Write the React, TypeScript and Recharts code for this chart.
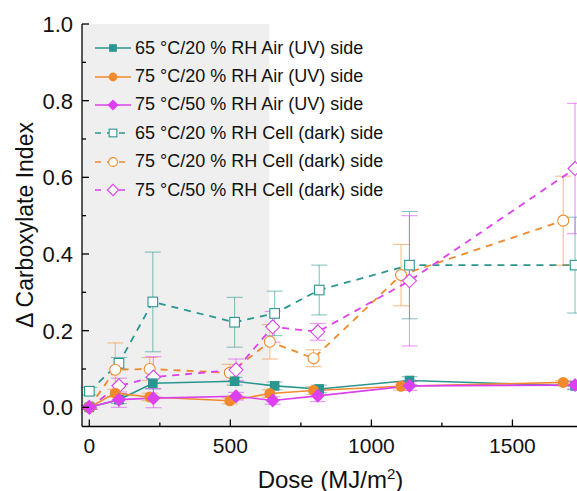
import React from 'react';
import { LineChart, Line, XAxis, YAxis, ReferenceArea, ErrorBar } from 'recharts';

// dose positions (MJ/m2) per colour group
const doseTeal = [0, 105, 225, 515, 657, 815, 1135, 1722];
const doseOrange = [0, 92, 214, 498, 640, 795, 1105, 1680];
const doseMagenta = [0, 105, 227, 520, 650, 810, 1135, 1722];

// air (UV) side
const air65 = [0.0, 0.02, 0.063, 0.068, 0.056, 0.048, 0.07, 0.056];
const air65Err = [0.005, 0.01, 0.015, 0.01, 0.01, 0.01, 0.01, 0.01];
const air75 = [0.0, 0.037, 0.027, 0.017, 0.036, 0.044, 0.055, 0.065];
const air75Err = [0.005, 0.01, 0.01, 0.008, 0.01, 0.01, 0.01, 0.005];
const air75h = [0.0, 0.02, 0.024, 0.029, 0.018, 0.03, 0.056, 0.058];
const air75hErr = [0.005, 0.02, 0.025, 0.01, 0.01, 0.015, 0.012, 0.01];

// cell (dark) side
const cell65 = [0.042, 0.115, 0.275, 0.222, 0.245, 0.306, 0.371, 0.371];
const cell65Err = [0.01, 0.015, 0.13, 0.065, 0.058, 0.065, 0.14, 0.125];
const cell75 = [0.0, 0.098, 0.1, 0.09, 0.171, 0.128, 0.345, 0.487];
const cell75Err = [0.005, 0.07, 0.03, 0.022, 0.045, 0.022, 0.08, 0.116];
const cell75h = [0.0, 0.056, 0.079, 0.098, 0.21, 0.197, 0.33, 0.623];
const cell75hErr = [0.005, 0.02, 0.053, 0.028, 0.04, 0.022, 0.17, 0.17];

const xTicks = [0, 250, 500, 750, 1000, 1250, 1500];
const yTicks = [0, 0.1, 0.2, 0.3, 0.4, 0.5, 0.6, 0.7, 0.8, 0.9, 1.0];
const uvEnd = 638;

const TEAL = '#2a9690';
const ORANGE = '#f08a2c';
const MAGENTA = '#dd40ee';
const FONT = '"Liberation Sans", Arial, sans-serif';

const build = (xs: number[], ys: number[], es: number[]) =>
  xs.map((x, i) => ({ x, y: ys[i], e: es[i] }));

type Shape = 'square' | 'circle' | 'diamond';

function Marker({ cx, cy, shape, color, open, s = 1 }: any) {
  const fill = open ? '#fff' : color;
  const sw = open ? 1.1 : 0;
  if (shape === 'square') {
    const h = 4.8 * s;
    return <rect x={cx - h} y={cy - h} width={2 * h} height={2 * h} fill={fill} stroke={color} strokeWidth={sw} />;
  }
  if (shape === 'circle') {
    return <circle cx={cx} cy={cy} r={5.5 * s} fill={fill} stroke={color} strokeWidth={sw} />;
  }
  const d = 7 * s;
  return (
    <polygon
      points={`${cx},${cy - d} ${cx + d},${cy} ${cx},${cy + d} ${cx - d},${cy}`}
      fill={fill}
      stroke={color}
      strokeWidth={sw}
    />
  );
}

const dotFn = (shape: Shape, color: string, open: boolean) => (p: any) => (
  <Marker key={`${shape}-${open}-${p.index}`} cx={p.cx} cy={p.cy} shape={shape} color={color} open={open} />
);

const series = [
  { name: '65 °C/20 % RH Air (UV) side', data: build(doseTeal, air65, air65Err), color: TEAL, shape: 'square', open: false },
  { name: '75 °C/20 % RH Air (UV) side', data: build(doseOrange, air75, air75Err), color: ORANGE, shape: 'circle', open: false },
  { name: '75 °C/50 % RH Air (UV) side', data: build(doseMagenta, air75h, air75hErr), color: MAGENTA, shape: 'diamond', open: false },
  { name: '65 °C/20 % RH Cell (dark) side', data: build(doseTeal, cell65, cell65Err), color: TEAL, shape: 'square', open: true },
  { name: '75 °C/20 % RH Cell (dark) side', data: build(doseOrange, cell75, cell75Err), color: ORANGE, shape: 'circle', open: true },
  { name: '75 °C/50 % RH Cell (dark) side', data: build(doseMagenta, cell75h, cell75hErr), color: MAGENTA, shape: 'diamond', open: true },
];

const BottomTick = ({ x, y, payload }: any) => {
  const major = payload.value % 500 === 0;
  return (
    <g>
      <line x1={x} y1={y} x2={x} y2={y - (major ? 7 : 4)} stroke="#000" strokeWidth={1.3} />
      {major && (
        <text x={x} y={y + 26} textAnchor="middle" fontSize={21} fontFamily={FONT} fill="#111">
          {payload.value}
        </text>
      )}
    </g>
  );
};

const TopTick = ({ x, y, payload }: any) => {
  const major = payload.value % 500 === 0;
  return <line x1={x} y1={y} x2={x} y2={y + (major ? 7 : 4)} stroke="#000" strokeWidth={1.3} />;
};

const LeftTick = ({ x, y, payload }: any) => {
  const major = Math.round(payload.value * 10) % 2 === 0;
  return (
    <g>
      <line x1={x} y1={y} x2={x + (major ? 7 : 4)} y2={y} stroke="#000" strokeWidth={1.3} />
      {major && (
        <text x={x - 9} y={y} dy="0.36em" textAnchor="end" fontSize={22} fontFamily={FONT} fill="#111">
          {payload.value.toFixed(1)}
        </text>
      )}
    </g>
  );
};

const RightTick = ({ x, y, payload }: any) => {
  const major = Math.round(payload.value * 10) % 2 === 0;
  return <line x1={x} y1={y} x2={x - (major ? 7 : 4)} y2={y} stroke="#000" strokeWidth={1.3} />;
};

function LegendBox() {
  return (
    <div style={{ position: 'absolute', left: 93, top: 34, fontFamily: FONT, fontSize: 18, color: '#111' }}>
      {series.map((s) => (
        <div key={s.name} style={{ display: 'flex', alignItems: 'center', height: 28.4 }}>
          <svg width={40} height={16} style={{ marginRight: 2 }}>
            <line
              x1={2}
              y1={8}
              x2={38}
              y2={8}
              stroke={s.color}
              strokeWidth={1.6}
              strokeDasharray={s.open ? '6 6' : undefined}
            />
            <Marker cx={20} cy={8} shape={s.shape} color={s.color} open={s.open} s={0.8} />
          </svg>
          <span>{s.name}</span>
        </div>
      ))}
    </div>
  );
}

export default function App() {
  const drawOrder = [3, 4, 5, 0, 1, 2];
  return (
    <div style={{ position: 'absolute', left: 0, top: 0, width: 577, height: 491, overflow: 'hidden', background: '#fff' }}>
      <LineChart width={600} height={491} margin={{ top: 24, right: 21, bottom: 0, left: 0 }}>
        <XAxis
          xAxisId="b"
          dataKey="x"
          type="number"
          domain={[-26, 1736]}
          allowDataOverflow
          ticks={xTicks}
          interval={0}
          height={64.5}
          tickSize={0}
          tickMargin={0}
          tickLine={false}
          tick={<BottomTick />}
          axisLine={{ stroke: '#000', strokeWidth: 1.3 }}
          label={{
            content: ({ viewBox }: any) => (
              <text
                x={viewBox.x + viewBox.width / 2}
                y={viewBox.y + 61}
                textAnchor="middle"
                fontSize={24}
                fontFamily={FONT}
                fill="#111"
              >
                Dose (MJ/m<tspan dy={-9} fontSize={15}>2</tspan>
                <tspan dy={9}>)</tspan>
              </text>
            ),
          }}
        />
        <XAxis
          xAxisId="t"
          orientation="top"
          type="number"
          domain={[-26, 1736]}
          allowDataOverflow
          ticks={xTicks}
          interval={0}
          height={0}
          tickSize={0}
          tickMargin={0}
          tickLine={false}
          tick={<TopTick />}
          axisLine={{ stroke: '#000', strokeWidth: 1.3 }}
        />
        <YAxis
          yAxisId="l"
          type="number"
          domain={[-0.05, 1.0]}
          allowDataOverflow
          ticks={yTicks}
          interval={0}
          width={82}
          tickSize={0}
          tickMargin={0}
          tickLine={false}
          tick={<LeftTick />}
          axisLine={{ stroke: '#000', strokeWidth: 1.3 }}
          label={{
            content: () => (
              <text
                x={33}
                y={225}
                transform="rotate(-90 33 225)"
                textAnchor="middle"
                fontSize={23}
                fontFamily={FONT}
                fill="#111"
              >
                Δ Carboxylate Index
              </text>
            ),
          }}
        />
        <YAxis
          yAxisId="r"
          orientation="right"
          type="number"
          domain={[-0.05, 1.0]}
          allowDataOverflow
          ticks={yTicks}
          interval={0}
          width={0}
          tickSize={0}
          tickMargin={0}
          tickLine={false}
          tick={<RightTick />}
          axisLine={{ stroke: '#000', strokeWidth: 1.3 }}
        />
        <ReferenceArea
          xAxisId="b"
          yAxisId="l"
          x1={-26}
          x2={uvEnd}
          y1={-0.05}
          y2={1.0}
          fill="#efefef"
          fillOpacity={1}
          stroke="none"
          ifOverflow="hidden"
        />
        {drawOrder.map((i) => {
          const s = series[i];
          return (
            <Line
              key={s.name}
              xAxisId="b"
              yAxisId="l"
              data={s.data}
              dataKey="y"
              name={s.name}
              stroke={s.color}
              strokeWidth={s.open ? 1.8 : 1.6}
              strokeDasharray={s.open ? '7 6' : undefined}
              dot={dotFn(s.shape as Shape, s.color, s.open)}
              activeDot={false}
              isAnimationActive={false}
            >
              <ErrorBar dataKey="e" width={8} strokeWidth={1.1} stroke={s.color} strokeOpacity={0.55} direction="y" />
            </Line>
          );
        })}
      </LineChart>
      <LegendBox />
    </div>
  );
}
